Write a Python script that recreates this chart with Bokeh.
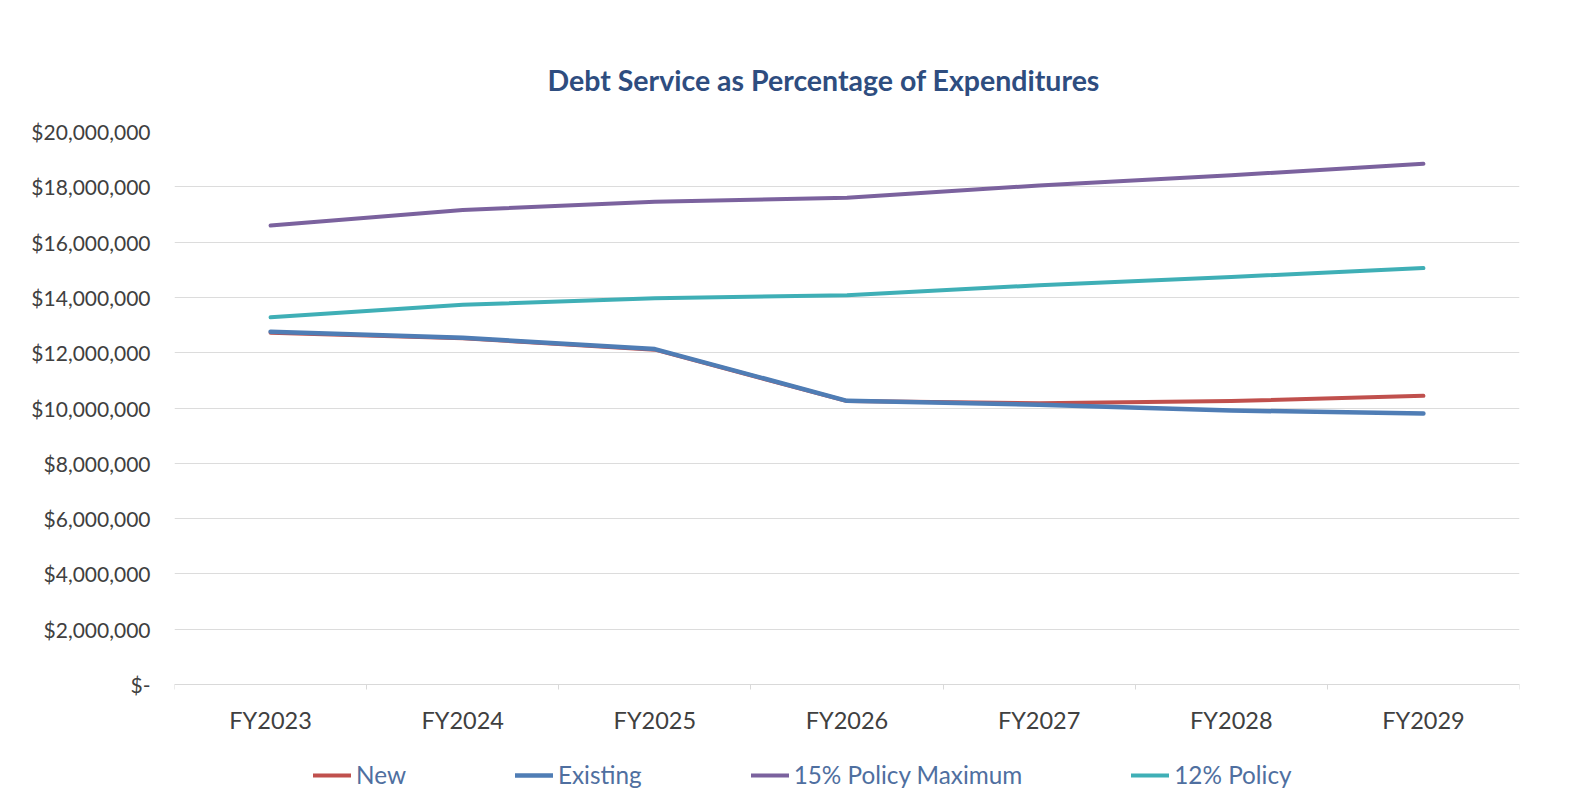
from bokeh.plotting import figure
from bokeh.models import Legend, LegendItem, FixedTicker, Range1d, NumeralTickFormatter
from bokeh.embed import file_html
from bokeh.resources import INLINE

categories = ["FY2023", "FY2024", "FY2025", "FY2026", "FY2027", "FY2028", "FY2029"]
new = [12720000, 12520000, 12110000, 10250000, 10170000, 10250000, 10440000]
existing = [12760000, 12540000, 12130000, 10260000, 10120000, 9910000, 9800000]
policy15 = [16600000, 17160000, 17460000, 17600000, 18050000, 18420000, 18830000]
policy12 = [13280000, 13730000, 13970000, 14080000, 14440000, 14740000, 15060000]
y_ticks = [0, 2000000, 4000000, 6000000, 8000000, 10000000, 12000000, 14000000, 16000000, 18000000, 20000000]

FONT = "Lato"
xs = list(range(len(categories)))

# frame extends below zero so the legend sits inside it; the x axis is pinned at y = 0
Y_MAX = 20000000
Y_MIN = -Y_MAX * 112 / 553

p = figure(frame_width=1345, frame_height=665, output_backend="svg", toolbar_location=None,
           x_range=Range1d(-0.5, len(categories) - 0.5), y_range=Range1d(Y_MIN, Y_MAX),
           min_border_left=174, min_border_right=61, min_border_top=131, min_border_bottom=0,
           title="Debt Service as Percentage of Expenditures")
p.outline_line_color = None
p.background_fill_color = "white"
p.border_fill_color = "white"

p.title.align = "left"
p.title.offset = 373
p.title.text_font = FONT
p.title.text_font_size = "28.5px"
p.title.text_font_style = "bold"
p.title.text_color = "#2E4D7F"
p.title.standoff = 69

# grid
p.xgrid.grid_line_color = None
p.ygrid.grid_line_color = "#dcdcdc"
p.ygrid.grid_line_width = 1

# y axis
p.yaxis.ticker = FixedTicker(ticks=y_ticks)
p.yaxis.formatter = NumeralTickFormatter(format="$0,0")
p.yaxis.major_label_overrides = {0: "$-"}
p.yaxis.axis_line_color = None
p.yaxis.major_tick_line_color = None
p.yaxis.minor_tick_line_color = None
p.yaxis.major_label_standoff = 18
p.yaxis.major_label_text_font = FONT
p.yaxis.major_label_text_font_size = "21px"
p.yaxis.major_label_text_color = "#404040"

# x axis
p.xaxis.fixed_location = 0
p.xaxis.ticker = FixedTicker(ticks=xs, minor_ticks=[i - 0.5 for i in range(len(categories) + 1)])
p.xaxis.major_label_overrides = {i: c for i, c in enumerate(categories)}
p.xaxis.axis_line_color = "#d9d9d9"
p.xaxis.major_tick_line_color = None
p.xaxis.minor_tick_line_color = "#d9d9d9"
p.xaxis.minor_tick_out = 5
p.xaxis.minor_tick_in = 0
p.xaxis.major_label_standoff = 15
p.xaxis.major_label_text_font = FONT
p.xaxis.major_label_text_font_size = "23.5px"
p.xaxis.major_label_text_color = "#404040"

r_new = p.line(xs, new, line_color="#C0504D", line_width=4, line_cap="round", line_join="round")
r_ex = p.line(xs, existing, line_color="#4F7DB5", line_width=4.5, line_cap="round", line_join="round")
r_15 = p.line(xs, policy15, line_color="#7B629E", line_width=4, line_cap="round", line_join="round")
r_12 = p.line(xs, policy12, line_color="#3FAFB6", line_width=4, line_cap="round", line_join="round")

legend = Legend(items=[LegendItem(label="New", renderers=[r_new]),
                       LegendItem(label="Existing", renderers=[r_ex]),
                       LegendItem(label="15% Policy Maximum", renderers=[r_15]),
                       LegendItem(label="12% Policy", renderers=[r_12])],
                location=(139, 7), orientation="horizontal")
legend.border_line_color = None
legend.background_fill_alpha = 0
legend.padding = 0
legend.margin = 0
legend.spacing = 109
legend.glyph_width = 38
legend.glyph_height = 20
legend.label_standoff = 5
legend.label_text_font = FONT
legend.label_text_font_size = "24.3px"
legend.label_text_color = "#4F6FA0"
p.add_layout(legend, "center")

open("out.html", "w").write(file_html(p, INLINE))
